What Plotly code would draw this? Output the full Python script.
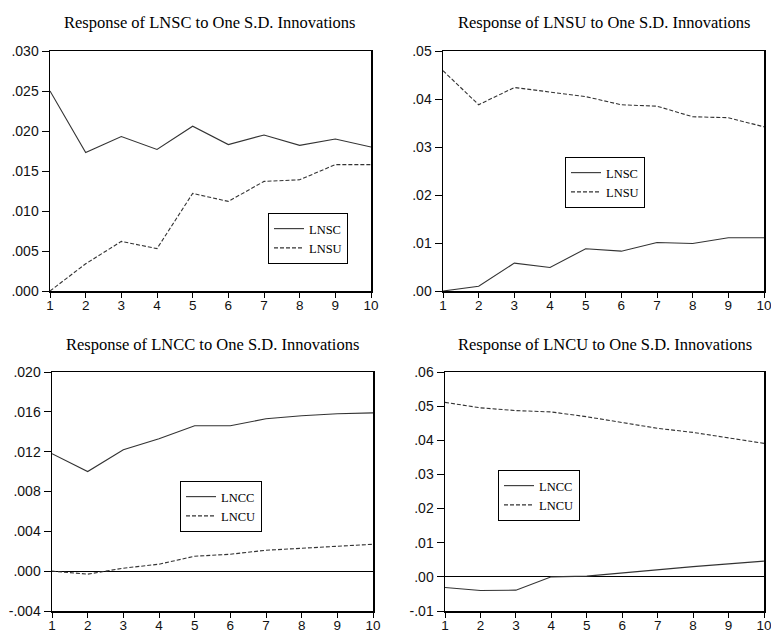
import plotly.graph_objects as go

periods = [1, 2, 3, 4, 5, 6, 7, 8, 9, 10]

# Panel 1: Response of LNSC
p1_lnsc = [0.0250, 0.0173, 0.0193, 0.0177, 0.0206, 0.0183, 0.0195, 0.0182, 0.0190, 0.0180]
p1_lnsu = [0.0000, 0.0034, 0.0062, 0.0053, 0.0122, 0.0112, 0.0137, 0.0139, 0.0158, 0.0158]
# Panel 2: Response of LNSU
p2_lnsc = [0.0000, 0.0010, 0.0058, 0.0049, 0.0088, 0.0083, 0.0101, 0.0099, 0.0111, 0.0111]
p2_lnsu = [0.0459, 0.0388, 0.0424, 0.0415, 0.0405, 0.0388, 0.0385, 0.0363, 0.0361, 0.0342]
# Panel 3: Response of LNCC
p3_lncc = [0.0118, 0.0100, 0.0122, 0.0133, 0.0146, 0.0146, 0.0153, 0.0156, 0.0158, 0.0159]
p3_lncu = [0.0000, -0.0003, 0.0003, 0.0007, 0.0015, 0.0017, 0.0021, 0.0023, 0.0025, 0.0027]
# Panel 4: Response of LNCU
p4_lncc = [-0.0031, -0.0040, -0.0039, 0.0000, 0.0002, 0.0012, 0.0021, 0.0030, 0.0038, 0.0046]
p4_lncu = [0.0511, 0.0495, 0.0487, 0.0483, 0.0469, 0.0451, 0.0435, 0.0423, 0.0406, 0.0391]

titles = ["Response of LNSC to One S.D. Innovations",
          "Response of LNSU to One S.D. Innovations",
          "Response of LNCC to One S.D. Innovations",
          "Response of LNCU to One S.D. Innovations"]

y1_ticks = [0.000, 0.005, 0.010, 0.015, 0.020, 0.025, 0.030]
y1_text = [".000", ".005", ".010", ".015", ".020", ".025", ".030"]
y2_ticks = [0.00, 0.01, 0.02, 0.03, 0.04, 0.05]
y2_text = [".00", ".01", ".02", ".03", ".04", ".05"]
y3_ticks = [-0.004, 0.000, 0.004, 0.008, 0.012, 0.016, 0.020]
y3_text = ["-.004", ".000", ".004", ".008", ".012", ".016", ".020"]
y4_ticks = [-0.01, 0.00, 0.01, 0.02, 0.03, 0.04, 0.05, 0.06]
y4_text = ["-.01", ".00", ".01", ".02", ".03", ".04", ".05", ".06"]

W, H = 771, 632
# plot boxes in pixels: (left, right, top, bottom)
boxes = [(50, 371, 51, 291), (443, 764, 51, 291), (52, 373, 372, 611), (445, 764, 372, 611)]
legend_pos = [(268, 213), (565, 157), (180, 481), (498, 470)]

panels = [
    (("LNSC", p1_lnsc), ("LNSU", p1_lnsu), y1_ticks, y1_text, [0, 0.030]),
    (("LNSC", p2_lnsc), ("LNSU", p2_lnsu), y2_ticks, y2_text, [0, 0.05]),
    (("LNCC", p3_lncc), ("LNCU", p3_lncu), y3_ticks, y3_text, [-0.004, 0.020]),
    (("LNCC", p4_lncc), ("LNCU", p4_lncu), y4_ticks, y4_text, [-0.01, 0.06]),
]

fig = go.Figure()
line_col = "#333333"
ytick_font = dict(family="Liberation Sans, Arial", size=14, color="#111")
xtick_font = dict(family="Liberation Sans, Arial", size=13.5, color="#111")
serif = "Liberation Serif, Times New Roman"

layout = dict(template="none", width=W, height=H, autosize=False,
              margin=dict(l=0, r=0, t=0, b=0, pad=0),
              paper_bgcolor="white", plot_bgcolor="white", showlegend=True)
annotations = []
for i, (s1, s2, yt, ytt, yr) in enumerate(panels):
    n = i + 1
    xa = "x" if n == 1 else f"x{n}"
    ya = "y" if n == 1 else f"y{n}"
    lg = "legend" if n == 1 else f"legend{n}"
    fig.add_trace(go.Scatter(x=periods, y=s1[1], name=s1[0], mode="lines",
                             line=dict(color=line_col, width=1.1),
                             xaxis=xa, yaxis=ya, legend=lg, hoverinfo="skip"))
    fig.add_trace(go.Scatter(x=periods, y=s2[1], name=s2[0], mode="lines",
                             line=dict(color=line_col, width=1.1, dash="4px,2px"),
                             xaxis=xa, yaxis=ya, legend=lg, hoverinfo="skip"))
    l, r, t, b = boxes[i]
    xkey = "xaxis" if n == 1 else f"xaxis{n}"
    ykey = "yaxis" if n == 1 else f"yaxis{n}"
    layout[xkey] = dict(domain=[l / W, r / W], range=[1, 10], tickvals=periods,
                        ticktext=[str(p) for p in periods], ticks="outside", ticklen=5,
                        tickwidth=1, tickcolor="black", showline=True, linecolor="black",
                        linewidth=1.5, mirror=True, showgrid=False, zeroline=False,
                        tickfont=xtick_font, anchor=ya, fixedrange=True, automargin=False,
                        ticklabelstandoff=-4, ticklabeloverflow="allow")
    layout[ykey] = dict(domain=[1 - b / H, 1 - t / H], range=yr, tickvals=yt, ticktext=ytt,
                        ticks="outside", ticklen=7, tickwidth=1, tickcolor="black",
                        showline=True, linecolor="black", linewidth=1.5, mirror=True,
                        showgrid=False, zeroline=(yr[0] < 0), zerolinecolor="black",
                        zerolinewidth=1, tickfont=ytick_font, anchor=xa, fixedrange=True,
                        automargin=False)
    lx, ly = legend_pos[i]
    layout[lg] = dict(x=lx / W, y=1 - ly / H, xanchor="left", yanchor="top",
                      bordercolor="black", borderwidth=1, bgcolor="white",
                      font=dict(family=serif, size=12.5, color="black"),
                      tracegroupgap=0, itemwidth=30)
    annotations.append(dict(text=titles[i], x=(l + r) / 2 / W, y=1 - (t - 28) / H,
                            xref="paper", yref="paper", showarrow=False,
                            xanchor="center", yanchor="middle",
                            font=dict(family=serif, size=16.5, color="black")))
layout["annotations"] = annotations
fig.update_layout(**layout)
fig.write_html("out.html",
               config={"displayModeBar": False, "responsive": False, "staticPlot": True},
               post_script="document.body.style.margin='0';document.body.style.overflow='hidden';")
